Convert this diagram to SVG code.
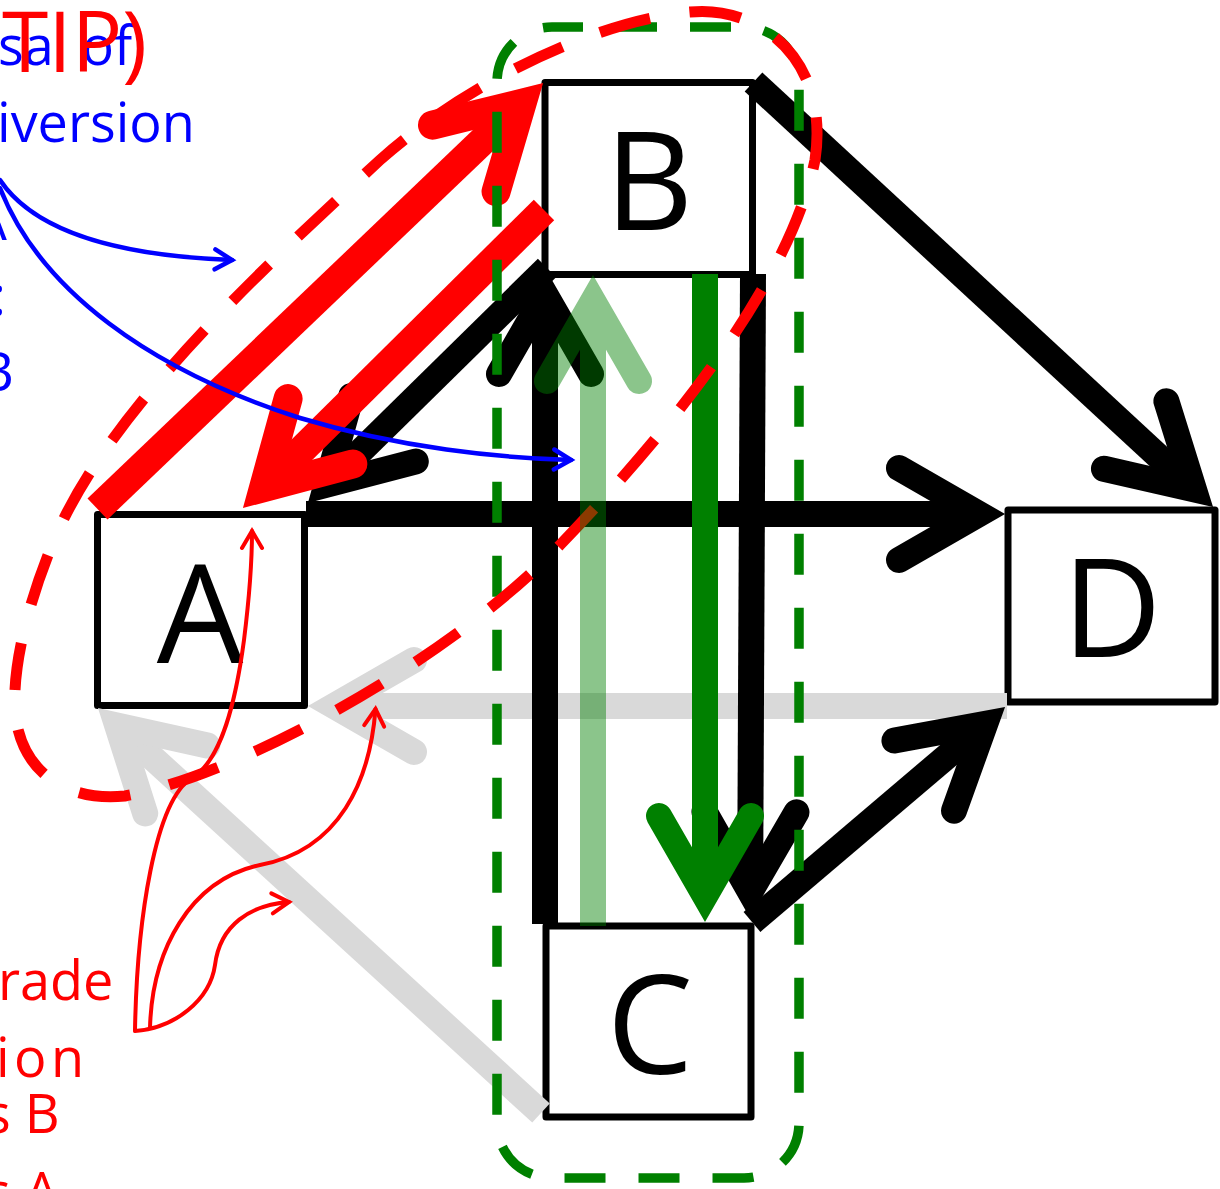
<svg xmlns="http://www.w3.org/2000/svg" width="1220" height="1189" viewBox="0 0 1220 1189">
<style>
.box{fill:#fff;stroke:#000;stroke-width:7;stroke-linejoin:round}
.lbl{font-family:"Open Sans","Noto Sans","DejaVu Sans",sans-serif;font-size:137px;text-anchor:middle;fill:#000}
.ln{fill:none;stroke-linecap:butt}
.blk{stroke:#000;stroke-width:26;marker-end:url(#hk)}
.gry{stroke:#d9d9d9;stroke-width:26;marker-end:url(#hg)}
.dgr{stroke:#008000;stroke-width:26;marker-end:url(#hdg)}
.lgr{stroke:#008000;stroke-width:26;marker-end:url(#hdg)}
.red{stroke:#ff0000;stroke-width:29;marker-end:url(#hr)}
.thr{fill:none;stroke:#ff0000;stroke-width:4;stroke-linecap:round;marker-end:url(#htr)}
.thb{fill:none;stroke:#0000ff;stroke-width:4.5;stroke-linecap:round;marker-end:url(#htb)}
.gdash{fill:none;stroke:#008000;stroke-width:9.5;stroke-dasharray:41 33;stroke-dashoffset:10}
.rdash{fill:none;stroke:#ff0000;stroke-width:11;stroke-dasharray:52 40;stroke-dashoffset:52}
.tb{font-family:"Open Sans","Noto Sans","DejaVu Sans",sans-serif;font-size:54px;fill:#0000ff}
.tr{font-family:"Open Sans","Noto Sans","DejaVu Sans",sans-serif;font-size:54px;fill:#ff0000}
</style>
<defs>
<marker id="hk" markerUnits="userSpaceOnUse" orient="auto" overflow="visible" markerWidth="1" markerHeight="1" refX="0" refY="0">
<path d="M-80,-46 L0,0 L-80,46" fill="none" stroke="#000" stroke-width="26" stroke-linecap="round" stroke-linejoin="miter"/>
</marker>
<marker id="hg" markerUnits="userSpaceOnUse" orient="auto" overflow="visible" markerWidth="1" markerHeight="1" refX="0" refY="0">
<path d="M-80,-46 L0,0 L-80,46" fill="none" stroke="#d9d9d9" stroke-width="26" stroke-linecap="round" stroke-linejoin="miter"/>
</marker>
<marker id="hdg" markerUnits="userSpaceOnUse" orient="auto" overflow="visible" markerWidth="1" markerHeight="1" refX="0" refY="0">
<path d="M-80,-46 L0,0 L-80,46" fill="none" stroke="#008000" stroke-width="26" stroke-linecap="round" stroke-linejoin="miter"/>
</marker>
<marker id="hr" markerUnits="userSpaceOnUse" orient="auto" overflow="visible" markerWidth="1" markerHeight="1" refX="0" refY="0">
<path d="M-80,-46 L0,0 L-80,46" fill="none" stroke="#ff0000" stroke-width="29" stroke-linecap="round" stroke-linejoin="miter"/>
</marker>
<marker id="htr" markerUnits="userSpaceOnUse" orient="auto" overflow="visible" markerWidth="1" markerHeight="1" refX="0" refY="0">
<path d="M-17,-10 L0,0 L-17,10" fill="none" stroke="#ff0000" stroke-width="4" stroke-linecap="round" stroke-linejoin="miter"/>
</marker>
<marker id="htb" markerUnits="userSpaceOnUse" orient="auto" overflow="visible" markerWidth="1" markerHeight="1" refX="0" refY="0">
<path d="M-17,-10 L0,0 L-17,10" fill="none" stroke="#0000ff" stroke-width="4.5" stroke-linecap="round" stroke-linejoin="miter"/>
</marker>
</defs>
<rect width="1220" height="1189" fill="#fff"/>

<g id="node-A"><rect class="box" x="97.5" y="514.5" width="207" height="191"/><text class="lbl" x="200" y="663">A</text></g>
<g id="node-B"><rect class="box" x="545" y="82.5" width="207.5" height="192"/><text class="lbl" x="649" y="230">B</text></g>
<g id="node-C"><rect class="box" x="546" y="926" width="205" height="191"/><text class="lbl" x="650" y="1074">C</text></g>
<g id="node-D"><rect class="box" x="1008" y="510" width="207" height="192"/><text class="lbl" x="1112" y="657">D</text></g>

<g id="connectors">
<path class="ln gry" d="M1007,706 L334,706"/>
<path class="ln gry" d="M541,1113 L117.2,725.5"/>
<path class="ln blk" d="M306,514 L979,514"/>
<path class="ln blk" d="M753.5,82 L1193.9,489.3"/>
<path class="ln blk" d="M547,268 L326.5,484.8"/>
<path class="ln blk" d="M545,924 L545,294"/>
<path class="ln blk" d="M753,274 L750.1,892"/>
<path class="ln blk" d="M752,922 L985.2,723.8"/>
<path class="ln dgr" d="M705,274 L705,896"/>
<path class="ln red" d="M97.5,509 L522.1,103.1"/>
<path class="ln red" d="M544,210 L263.6,487.6"/>
<rect id="group-BC" class="gdash" x="497" y="27" width="302" height="1151" rx="55"/>
<path id="group-AB" class="rdash" d="M15,690 C10,760 55,803 125,796 C240,775 450,660 560,545 C680,420 790,280 815,160 C830,60 760,5 690,12 C600,20 470,80 380,160 C250,280 100,420 50,550 C30,600 17,650 15,690 Z"/>
<g opacity="0.45"><path class="ln lgr" d="M593,926 L593,301"/></g>
<path class="thr" d="M135,1030 C137,920 155,800 192,778 C222,760 236,700 244,640 C249,600 252,565 252,531"/>
<path class="thr" d="M150,1028 C152,950 190,880 260,865 C340,850 370,780 375.5,709"/>
<path class="thr" d="M135,1031 C175,1028 210,1000 215,965 C220,925 250,905 289,902"/>
<path class="thb" d="M0,180 C30,225 100,255 232,260"/>
<path class="thb" d="M0,188 C40,290 150,370 300,418 C400,448 500,458 571,460"/>
</g>

<g id="labels">
<text class="tb" x="-2" y="65">sal of</text>
<text class="tb" x="-3" y="142">iversion</text>
<text class="tb" x="7" y="240" text-anchor="end">A</text>
<text class="tb" x="6" y="315" text-anchor="end">:</text>
<text class="tb" x="14" y="391" text-anchor="end">B</text>
<text x="2" y="72" font-family="Open Sans, Noto Sans, DejaVu Sans, sans-serif" font-size="84" fill="#ff0000">TIP)</text>
<text class="tr" x="-2" y="1000">rade</text>
<text class="tr" x="-4" y="1077" textLength="88" lengthAdjust="spacing">ion</text>
<text class="tr" x="-15" y="1133">s B</text>
<text class="tr" x="-15" y="1211">s A</text>
</g>
</svg>
